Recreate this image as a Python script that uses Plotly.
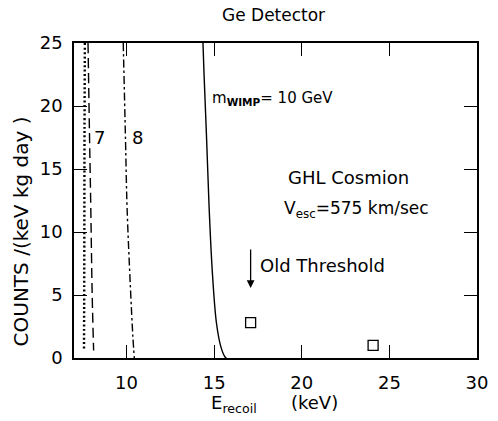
import plotly.graph_objects as go

# Recoil spectra in a Ge detector (keV, counts/(keV kg day))
dot_e = [7.62, 7.60, 7.59, 7.58, 7.57]
dot_c = [25.0, 18.0, 10.0, 4.0, 0.6]

dash_e = [7.80, 7.89, 7.95, 8.04, 8.12]
dash_c = [25.0, 17.3, 12.6, 4.9, 0.6]

dashdot_e = [9.81, 9.94, 10.03, 10.22, 10.36, 10.44]
dashdot_c = [25.0, 17.3, 11.9, 5.6, 1.7, 0.0]

solid_e = [14.36, 14.42, 14.57, 14.71, 14.90, 15.13, 15.38, 15.61, 15.70]
solid_c = [25.0, 22.6, 17.3, 12.0, 6.72, 2.78, 0.90, 0.10, 0.0]

# Measured points
data_e = [17.08, 24.07]
data_c = [2.8, 1.0]

x_ticks = [10, 15, 20, 25, 30]
y_ticks = [0, 5, 10, 15, 20, 25]
x_range = [7, 30]
y_range = [0, 25]

FONT = "DejaVu Sans"
INK = "black"
W, H = 498, 421
M_L, M_R, M_T, M_B = 74, 10, 43, 63

fig = go.Figure()
fig.add_trace(go.Scatter(x=dot_e, y=dot_c, mode="lines",
                         line=dict(color=INK, width=2.4, dash="2px,2.4px"),
                         line_shape="spline"))
fig.add_trace(go.Scatter(x=dash_e, y=dash_c, mode="lines",
                         line=dict(color=INK, width=1.4, dash="10px,5px"),
                         line_shape="spline"))
fig.add_trace(go.Scatter(x=dashdot_e, y=dashdot_c, mode="lines",
                         line=dict(color=INK, width=1.4, dash="8px,3px,2.5px,3px"),
                         line_shape="spline"))
fig.add_trace(go.Scatter(x=solid_e, y=solid_c, mode="lines",
                         line=dict(color=INK, width=1.4),
                         line_shape="spline"))
fig.add_trace(go.Scatter(x=data_e, y=data_c, mode="markers",
                         marker=dict(symbol="square-open", size=10,
                                     color=INK, line=dict(color=INK, width=1.3))))

# Framed axes with inward ticks mirrored on all four sides
tick_font = dict(family=FONT, size=18, color=INK)
axis_style = dict(showgrid=False, zeroline=False, showline=True, linecolor=INK,
                  linewidth=1.5, mirror="ticks", ticks="inside", ticklen=13,
                  tickwidth=1.4, tickcolor=INK, tickfont=tick_font)
fig.update_xaxes(range=x_range, tickmode="array", tickvals=x_ticks,
                 ticklabelstandoff=8, **axis_style)
fig.update_yaxes(range=y_range, tickmode="array", tickvals=y_ticks,
                 ticklabelstandoff=6, **axis_style)

ann = []
ann.append(dict(x=8.45, y=17.5, xanchor="center", text="7", showarrow=False,
                font=dict(family=FONT, size=18, color=INK)))
ann.append(dict(x=10.6, y=17.5, xanchor="center", text="8", showarrow=False,
                font=dict(family=FONT, size=18, color=INK)))
ann.append(dict(x=14.77, y=20.6, xanchor="left", showarrow=False,
                text="m<sub><b>WIMP</b></sub>= 10 GeV",
                font=dict(family=FONT, size=15, color=INK)))
ann.append(dict(x=22.67, y=14.3, xanchor="center", text="GHL Cosmion", showarrow=False,
                font=dict(family=FONT, size=18, color=INK)))
ann.append(dict(x=23.12, y=11.8, xanchor="center", text="V<sub>esc</sub>=575 km/sec",
                showarrow=False, font=dict(family=FONT, size=17, color=INK)))
ann.append(dict(x=17.52, y=7.38, xanchor="left", text="Old Threshold", showarrow=False,
                font=dict(family=FONT, size=18, color=INK)))
# Arrow marking the previous threshold
ann.append(dict(x=17.08, y=5.56, ax=17.08, ay=8.73, axref="x", ayref="y",
                xref="x", yref="y", text="", showarrow=True,
                arrowhead=2, arrowsize=1.2, arrowwidth=1.3, arrowcolor=INK))
# Titles
ann.append(dict(xref="paper", yref="paper", x=(279 - M_L) / 414, y=(358 - 15) / 315,
                xanchor="center", yanchor="middle", text="Ge Detector", showarrow=False,
                font=dict(family=FONT, size=17, color=INK)))
ann.append(dict(xref="paper", yref="paper", x=(280 - M_L) / 414, y=-(404 - 358) / 315,
                xanchor="center", yanchor="middle",
                text="E<sub>recoil</sub>      (keV)", showarrow=False,
                font=dict(family=FONT, size=18, color=INK)))
ann.append(dict(xref="paper", yref="paper", x=-(M_L - 20) / 414, y=(358 - 231) / 315,
                xanchor="center", yanchor="middle",
                textangle=-90, text="COUNTS /(keV kg day )", showarrow=False,
                font=dict(family=FONT, size=20, color=INK)))

fig.update_layout(
    width=W, height=H,
    margin=dict(l=M_L, r=M_R, t=M_T, b=M_B),
    paper_bgcolor="white", plot_bgcolor="white",
    showlegend=False, annotations=ann,
)

fig.write_html("out.html")
